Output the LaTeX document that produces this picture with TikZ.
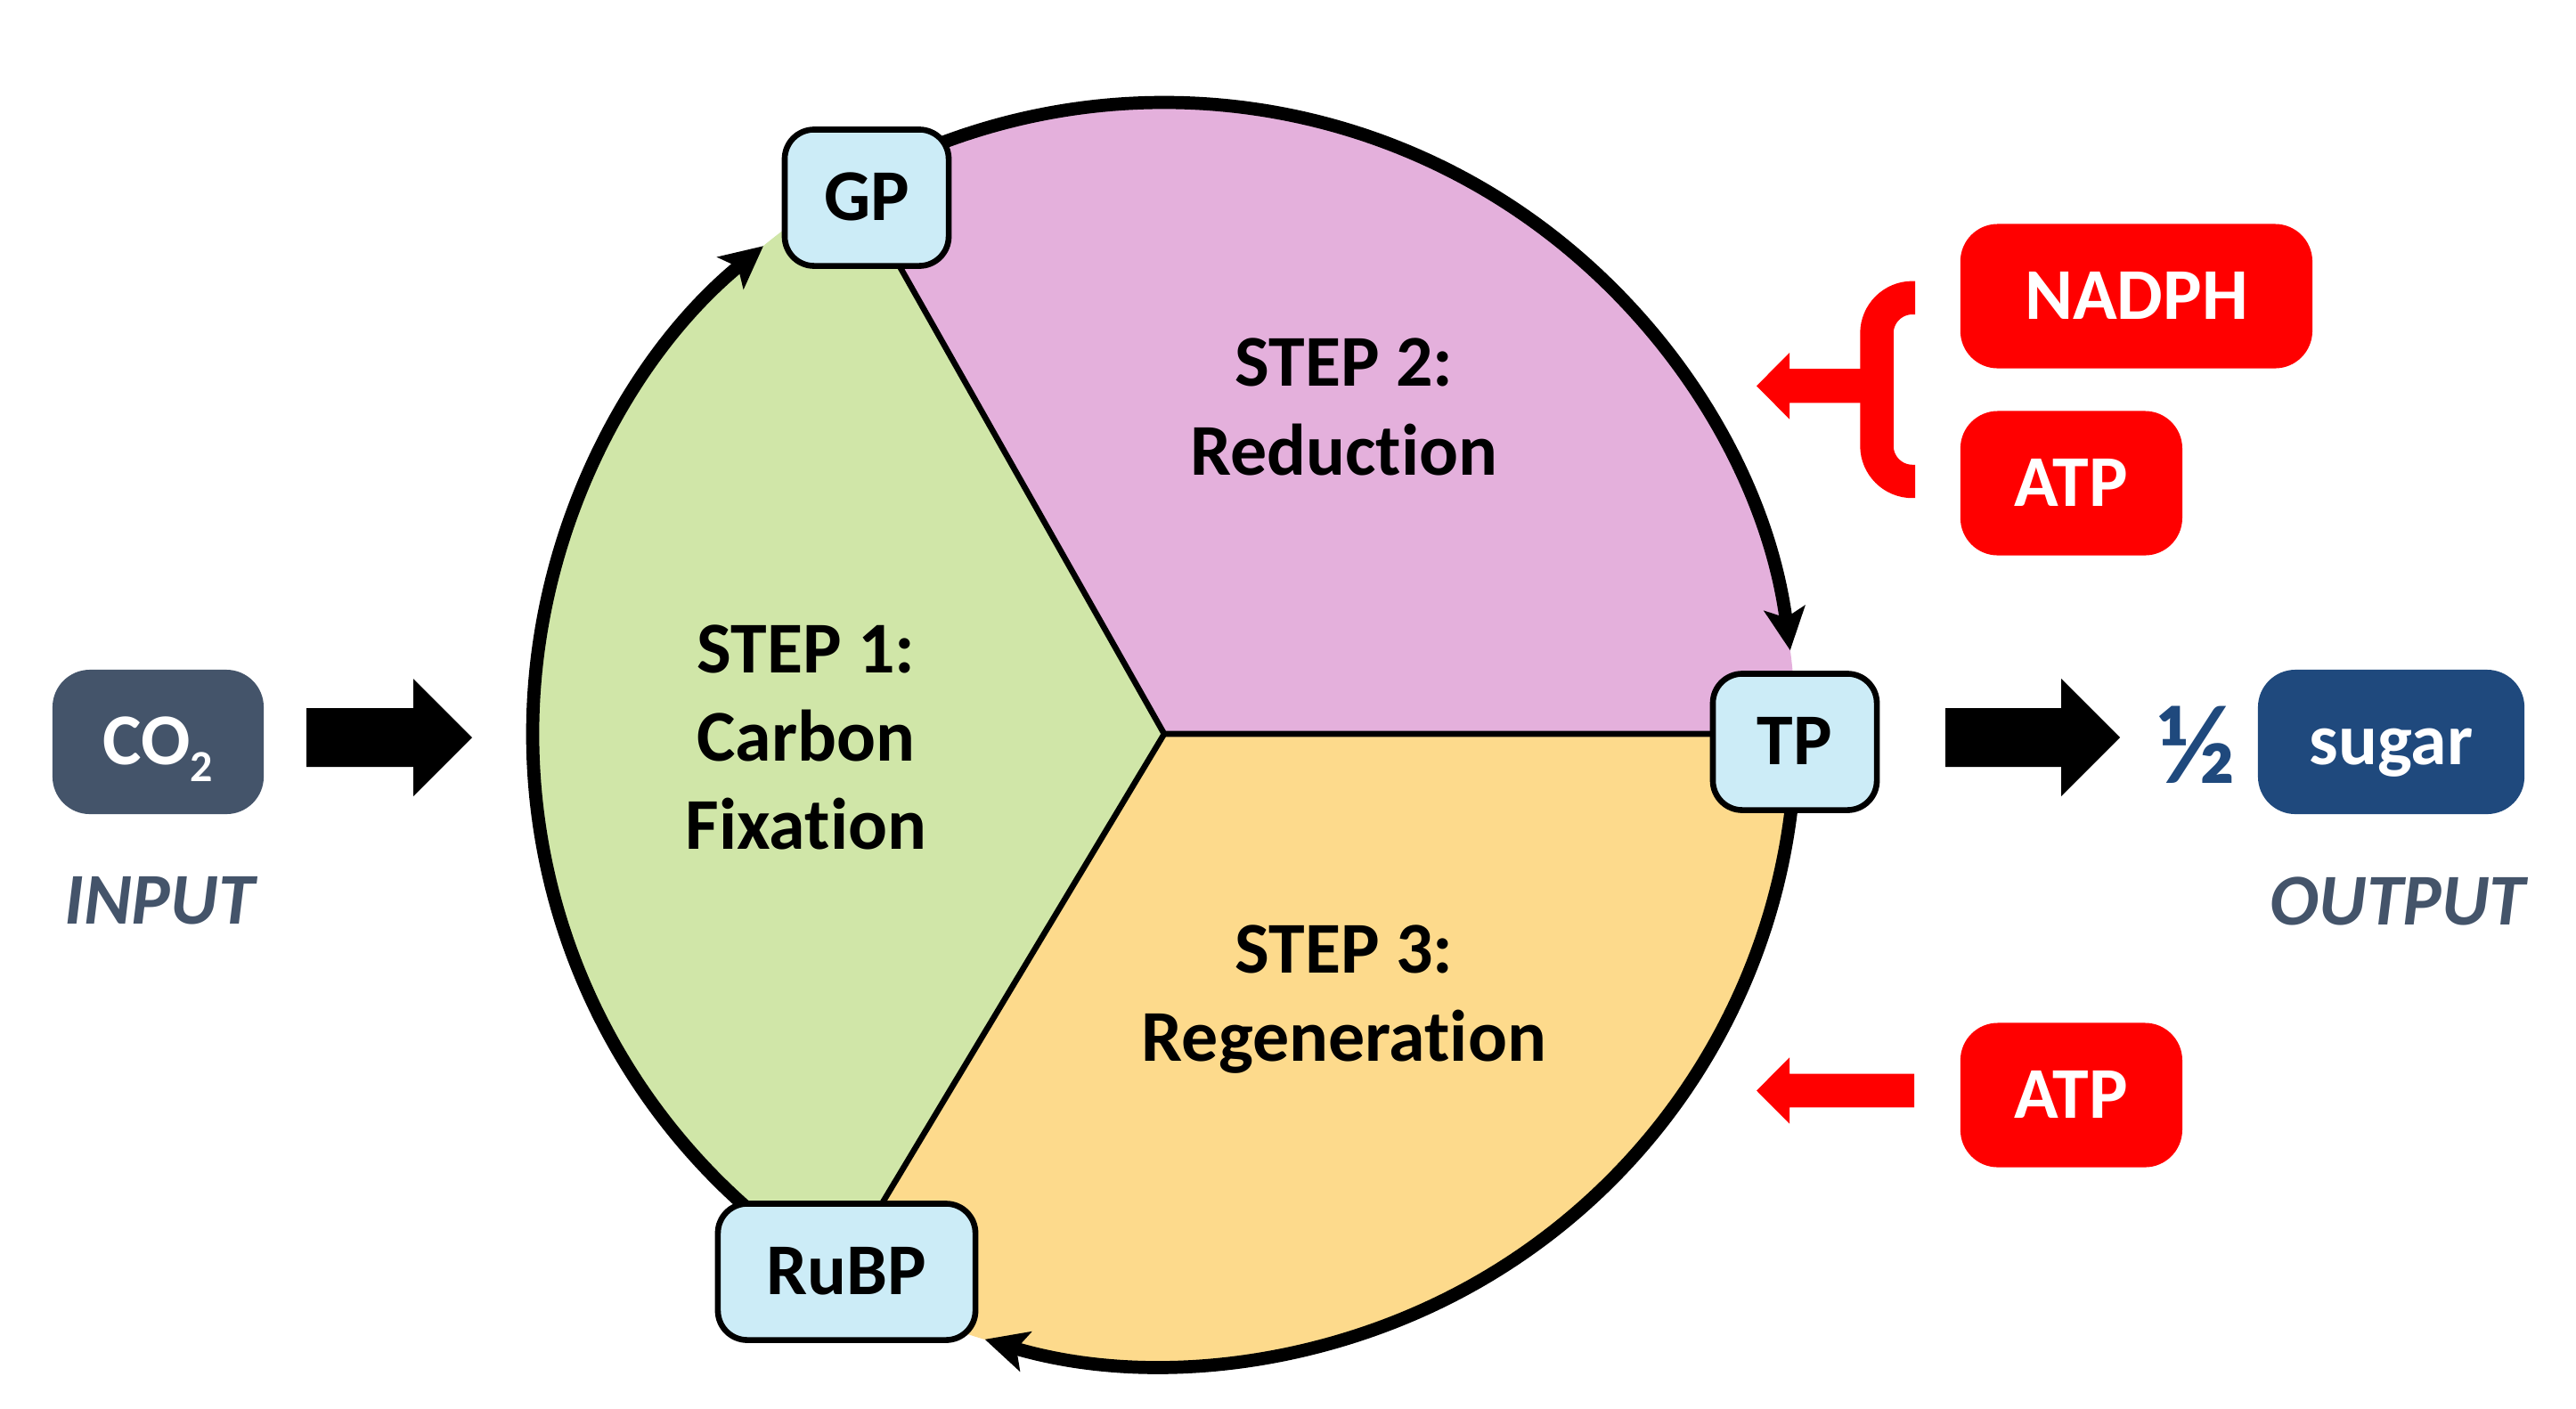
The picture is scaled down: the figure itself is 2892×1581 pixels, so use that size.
\documentclass[tikz,border=0pt]{standalone}
\usepackage{fontspec}
\setmainfont{Carlito}[Ligatures=NoCommon]
\usetikzlibrary{arrows.meta,calc}
\definecolor{slate}{RGB}{68,84,106}
\definecolor{navy}{RGB}{31,73,125}
\definecolor{boxblue}{RGB}{204,236,247}
\definecolor{sgreen}{RGB}{208,230,168}
\definecolor{spink}{RGB}{228,176,220}
\definecolor{syellow}{RGB}{253,218,140}
\definecolor{brightred}{RGB}{255,0,0}
\begin{document}
\begin{tikzpicture}[x=0.01cm, y=0.01cm,
  lab/.style={font=\fontsize{23.3pt}{28.2pt}\selectfont\bfseries},
  capbox/.style={lab, text height=14.7pt, text depth=0pt, inner sep=0pt},
  stage/.style={capbox, draw=black, line width=0.066cm, fill=boxblue, rounded corners=0.33cm, minimum height=1.53cm},
  redbox/.style={capbox, fill=brightred, text=white, rounded corners=0.42cm, minimum height=1.62cm},
  iobox/.style={capbox, text=white, rounded corners=0.42cm, minimum height=1.62cm},
  divider/.style={line width=0.066cm, black},
  cyc/.style={line width=0.147cm, black, -{Stealth[length=13.5pt,width=13pt,inset=3pt]}},
  iolabel/.style={lab, text=slate, anchor=base, font=\fontsize{23.3pt}{28.2pt}\selectfont\bfseries\itshape},
  steptext/.style={lab, align=center, inner sep=0pt}
]
\useasboundingbox (0,0) rectangle (2892,-1581);
\coordinate (C) at (1307,-824);
% sectors
\fill[sgreen] (C) -- ++(119.5:709) arc[start angle=119.5, end angle=239, radius=709] -- cycle;
\fill[spink] (C) -- ++(0:709) arc[start angle=0, end angle=119.5, radius=709] -- cycle;
\fill[syellow] (C) -- ++(239:709) arc[start angle=239, end angle=360, radius=709] -- cycle;
\draw[divider] (C) -- ++(0:709) (C) -- ++(119.5:709) (C) -- ++(239:709);
% cycle arrows
\draw[cyc] ([shift={(115:709)}]C) arc[start angle=115, end angle=7.6, radius=709];
\draw[cyc] ([shift={(-3:709)}]C) arc[start angle=-3, end angle=-106.5, radius=709];
\draw[cyc] ([shift={(232:709)}]C) arc[start angle=232, end angle=129.4, radius=709];
% stage boxes
\node[stage, minimum width=1.84cm] (GP) at (973,-222) {GP};
\node[stage, minimum width=1.84cm] (TP) at (2015,-833) {TP};
\node[stage, minimum width=2.89cm] (RuBP) at (950.5,-1428) {RuBP};
% step labels
\node[steptext] (s1) at (905,-828) {STEP 1:\\Carbon\\Fixation};
\node[steptext] (s2) at (1509,-457) {STEP 2:\\Reduction};
\node[steptext] (s3) at (1509,-1122) {STEP 3:\\Regeneration};
% input / output
\node[iobox, fill=slate, minimum width=2.37cm] (co2) at (177.5,-833) {CO\raisebox{-5.2pt}{\fontsize{14.2pt}{14.2pt}\selectfont 2}};
\node[iolabel] (input) at (179,-1037) {INPUT};
\node[iobox, fill=navy, minimum width=2.99cm] (sugar) at (2684.5,-833) {sugar};
\node[text=navy, inner sep=0pt, font=\fontsize{36pt}{40pt}\selectfont\bfseries] (half) at (2466,-836) {½};
\node[iolabel] (output) at (2692,-1038) {OUTPUT};
% block arrows
\fill[black] (344,-795) -- (464,-795) -- (464,-762) -- (530,-828) -- (464,-894) -- (464,-861) -- (344,-861) -- cycle;
\fill[black] (2184,-795) -- (2314,-795) -- (2314,-762) -- (2380,-828) -- (2314,-894) -- (2314,-861) -- (2184,-861) -- cycle;
% red inputs
\node[redbox, minimum width=3.95cm] (nadph) at (2398.4,-332.5) {NADPH};
\node[redbox, minimum width=2.49cm] (atp1) at (2325.4,-542.5) {ATP};
\node[redbox, minimum width=2.49cm] (atp2) at (2325.4,-1229.5) {ATP};
\draw[brightred, line width=0.374cm] (2150,-334.3) -- (2147,-334.3) arc[start angle=90, end angle=180, radius=40] -- (2107,-500.5) arc[start angle=180, end angle=270, radius=40] -- (2150,-540.5);
\fill[brightred] (2100,-414) -- (2009,-414) -- (2009,-396) -- (1972,-433.3) -- (2009,-470.7) -- (2009,-452.3) -- (2100,-452.3) -- cycle;
\fill[brightred] (2149,-1205.7) -- (2009,-1205.7) -- (2009,-1187.3) -- (1972,-1224.5) -- (2009,-1261.7) -- (2009,-1243.3) -- (2149,-1243.3) -- cycle;
\end{tikzpicture}
\end{document}
